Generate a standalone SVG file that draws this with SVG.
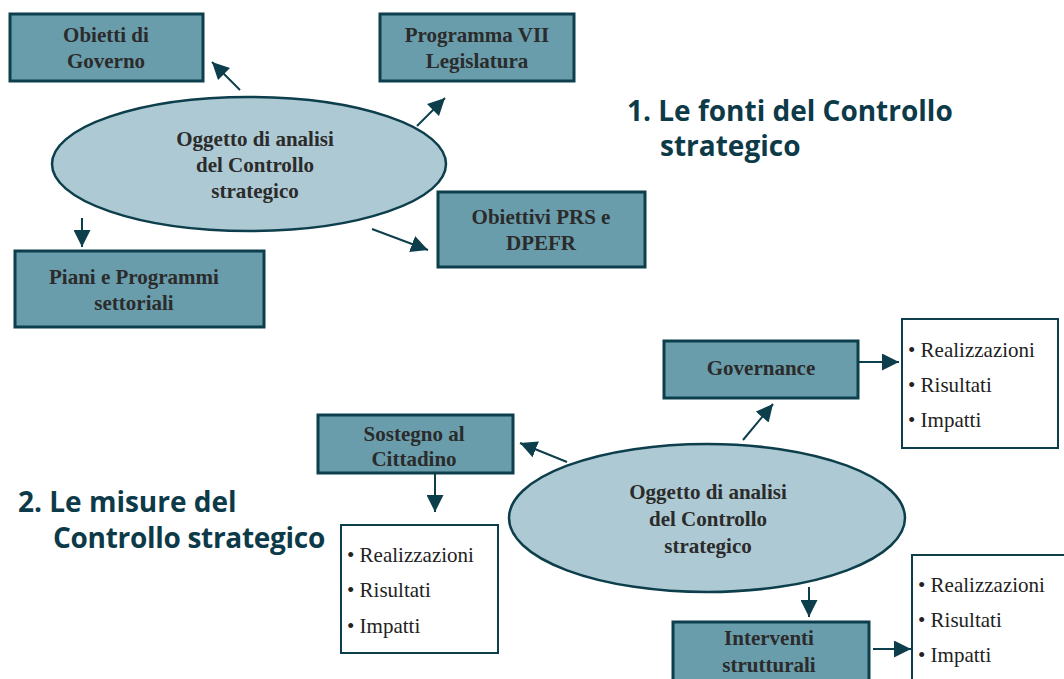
<svg xmlns="http://www.w3.org/2000/svg" width="1064" height="679" viewBox="0 0 1064 679">
  <defs>
    <marker id="arrow" viewBox="0 0 10 10" refX="10" refY="5" markerWidth="8.5" markerHeight="8.5" orient="auto" markerUnits="strokeWidth">
      <path d="M0,0 L10,5 L0,10 Z" fill="#0d3e4c"/>
    </marker>
    <style>
      .box { fill: #699dab; stroke: #0d3e4c; stroke-width: 3; }
      .list { fill: #ffffff; stroke: #0d3e4c; stroke-width: 2; }
      .oval { fill: #adc9d3; stroke: #0d3e4c; stroke-width: 2.5; }
      .lbl { font-family: "Liberation Serif", "DejaVu Serif", serif; font-weight: bold; font-size: 21px; fill: #2b2b2b; text-anchor: middle; }
      .item { font-family: "Liberation Serif", "DejaVu Serif", serif; font-size: 21px; fill: #222222; }
      .head { font-family: "Open Sans", "Liberation Sans", sans-serif; font-weight: bold; font-size: 28px; fill: #0d3a48; }
      .conn { stroke: #0d3e4c; stroke-width: 2; fill: none; marker-end: url(#arrow); }
    </style>
  </defs>
  <rect width="1064" height="679" fill="#ffffff"/>

  <!-- Section 1: sources -->
  <g id="oggetto-1">
    <ellipse class="oval" cx="249" cy="164" rx="197" ry="67"/>
    <text class="lbl" x="255" y="146">Oggetto di analisi</text>
    <text class="lbl" x="255" y="172">del Controllo</text>
    <text class="lbl" x="255" y="198">strategico</text>
  </g>
  <g id="obiettivi-governo">
    <rect class="box" x="10" y="14" width="193" height="67"/>
    <text class="lbl" x="106" y="42">Obietti di</text>
    <text class="lbl" x="106" y="68">Governo</text>
  </g>
  <g id="programma-vii">
    <rect class="box" x="380" y="14" width="194" height="67"/>
    <text class="lbl" x="477" y="42">Programma VII</text>
    <text class="lbl" x="477" y="68">Legislatura</text>
  </g>
  <g id="obiettivi-prs">
    <rect class="box" x="438" y="192" width="207" height="75"/>
    <text class="lbl" x="541" y="224">Obiettivi PRS e</text>
    <text class="lbl" x="541" y="250">DPEFR</text>
  </g>
  <g id="piani-programmi">
    <rect class="box" x="15" y="251" width="249" height="76"/>
    <text class="lbl" x="134" y="284">Piani e Programmi</text>
    <text class="lbl" x="134" y="310">settoriali</text>
  </g>
  <g id="titolo-1">
    <text class="head" x="627" y="121">1. Le fonti del Controllo</text>
    <text class="head" x="660" y="156">strategico</text>
  </g>

  <!-- Section 2: measures -->
  <g id="oggetto-2">
    <ellipse class="oval" cx="707" cy="518" rx="198" ry="74"/>
    <text class="lbl" x="708" y="499">Oggetto di analisi</text>
    <text class="lbl" x="708" y="526">del Controllo</text>
    <text class="lbl" x="708" y="553">strategico</text>
  </g>
  <g id="governance">
    <rect class="box" x="664" y="341" width="194" height="57"/>
    <text class="lbl" x="761" y="375">Governance</text>
  </g>
  <g id="governance-misure">
    <rect class="list" x="902" y="319" width="156" height="129"/>
    <text class="item" x="908" y="357">• Realizzazioni</text>
    <text class="item" x="908" y="392">• Risultati</text>
    <text class="item" x="908" y="427">• Impatti</text>
  </g>
  <g id="sostegno">
    <rect class="box" x="318" y="415" width="195" height="58"/>
    <text class="lbl" x="414" y="441">Sostegno al</text>
    <text class="lbl" x="414" y="466">Cittadino</text>
  </g>
  <g id="sostegno-misure">
    <rect class="list" x="341" y="525" width="157" height="128"/>
    <text class="item" x="347" y="562">• Realizzazioni</text>
    <text class="item" x="347" y="597">• Risultati</text>
    <text class="item" x="347" y="633">• Impatti</text>
  </g>
  <g id="interventi">
    <rect class="box" x="673" y="622" width="196" height="70"/>
    <text class="lbl" x="769" y="645">Interventi</text>
    <text class="lbl" x="769" y="672">strutturali</text>
  </g>
  <g id="interventi-misure">
    <rect class="list" x="912" y="555" width="160" height="140"/>
    <text class="item" x="918" y="592">• Realizzazioni</text>
    <text class="item" x="918" y="627">• Risultati</text>
    <text class="item" x="918" y="662">• Impatti</text>
  </g>
  <g id="titolo-2">
    <text class="head" x="18" y="512">2. Le misure del</text>
    <text class="head" x="53" y="548" letter-spacing="-0.3">Controllo strategico</text>
  </g>

  <!-- Connectors -->
  <g id="connectors">
    <line class="conn" x1="240" y1="90" x2="212" y2="62"/>
    <line class="conn" x1="417" y1="126" x2="445" y2="98"/>
    <line class="conn" x1="82" y1="218" x2="82" y2="247"/>
    <line class="conn" x1="372" y1="229" x2="428" y2="250"/>
    <line class="conn" x1="743" y1="440" x2="773" y2="404"/>
    <line class="conn" x1="858" y1="362" x2="899" y2="362"/>
    <line class="conn" x1="567" y1="462" x2="520" y2="443"/>
    <line class="conn" x1="435" y1="473" x2="435" y2="512"/>
    <line class="conn" x1="809" y1="587" x2="809" y2="617"/>
    <line class="conn" x1="873" y1="649" x2="911" y2="649"/>
  </g>
</svg>
